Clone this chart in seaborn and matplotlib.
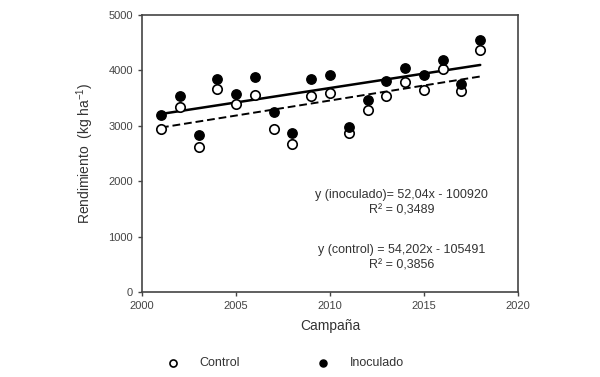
import numpy as np
import pandas as pd
import matplotlib
matplotlib.use('Agg')
import matplotlib.pyplot as plt
import seaborn as sns

years = list(range(2001, 2019))
control = [2950, 3340, 2620, 3670, 3390, 3560, 2950, 2670, 3530, 3590,
           2860, 3280, 3545, 3790, 3650, 4025, 3620, 4370]
inoculado = [3190, 3545, 2840, 3840, 3580, 3885, 3250, 2870, 3845, 3915,
             2970, 3470, 3810, 4035, 3920, 4190, 3750, 4555]

# fitted equations as printed on the chart
slope_inoc, icpt_inoc, r2_inoc = 52.04, -100920, 0.3489
slope_ctrl, icpt_ctrl, r2_ctrl = 54.202, -105491, 0.3856

sns.set_style('ticks')
plt.rcParams['font.family'] = ['Liberation Sans', 'DejaVu Sans']
plt.rcParams['mathtext.default'] = 'regular'
txt = '#333333'
plt.rcParams['text.color'] = txt
plt.rcParams['axes.labelcolor'] = txt
plt.rcParams['xtick.color'] = '#444444'
plt.rcParams['ytick.color'] = '#444444'

df = pd.DataFrame({'year': years, 'control': control, 'inoculado': inoculado})
fit_x = np.array([years[0], years[-1]])
fit = pd.DataFrame({
    'year': fit_x,
    'inoc': slope_inoc * fit_x + icpt_inoc,
    'ctrl': slope_ctrl * fit_x + icpt_ctrl,
})

fig = plt.figure(figsize=(6, 3.77), dpi=100)
ax = fig.add_axes([0.237, 0.2255, 0.626, 0.735])

sns.lineplot(data=fit, x='year', y='inoc', ax=ax, color='black', lw=1.8)
sns.lineplot(data=fit, x='year', y='ctrl', ax=ax, color='black', lw=1.4,
             linestyle=(0, (4, 2)))
sns.scatterplot(data=df, x='year', y='control', ax=ax, s=46, marker='o',
                facecolor='white', edgecolor='black', linewidth=1.2,
                label='Control', zorder=3)
sns.scatterplot(data=df, x='year', y='inoculado', ax=ax, s=46, marker='o',
                color='black', edgecolor='black', linewidth=1.0,
                label='Inoculado', zorder=4)

ax.set_xlim(2000, 2020)
ax.set_ylim(0, 5000)
ax.set_xticks(range(2000, 2021, 5))
ax.set_yticks(range(0, 5001, 1000))
ax.tick_params(labelsize=8, length=3, width=1)
for s in ax.spines.values():
    s.set_visible(True)
    s.set_color('#444444')
    s.set_linewidth(1.2)

ax.set_xlabel('Campaña', fontsize=10, labelpad=6)
ax.set_ylabel('Rendimiento  (kg ha$^{-1}$)', fontsize=10, labelpad=9)

ax.text(2013.8, 1613,
        'y (inoculado)= 52,04x - 100920\nR² = ' + f'{r2_inoc}'.replace('.', ','),
        ha='center', va='center', fontsize=9, linespacing=1.35)
ax.text(2013.8, 622,
        'y (control) = 54,202x - 105491\nR² = ' + f'{r2_ctrl}'.replace('.', ','),
        ha='center', va='center', fontsize=9, linespacing=1.35)

handles, labels = ax.get_legend_handles_labels()
ax.legend_.remove()
fig.legend(handles, labels, loc='center', bbox_to_anchor=(0.475, 0.037),
           ncol=2, frameon=False, fontsize=9, columnspacing=6.2,
           handlelength=1.0, handletextpad=1.6, markerscale=0.75)

fig.savefig('out.png', dpi=100)
